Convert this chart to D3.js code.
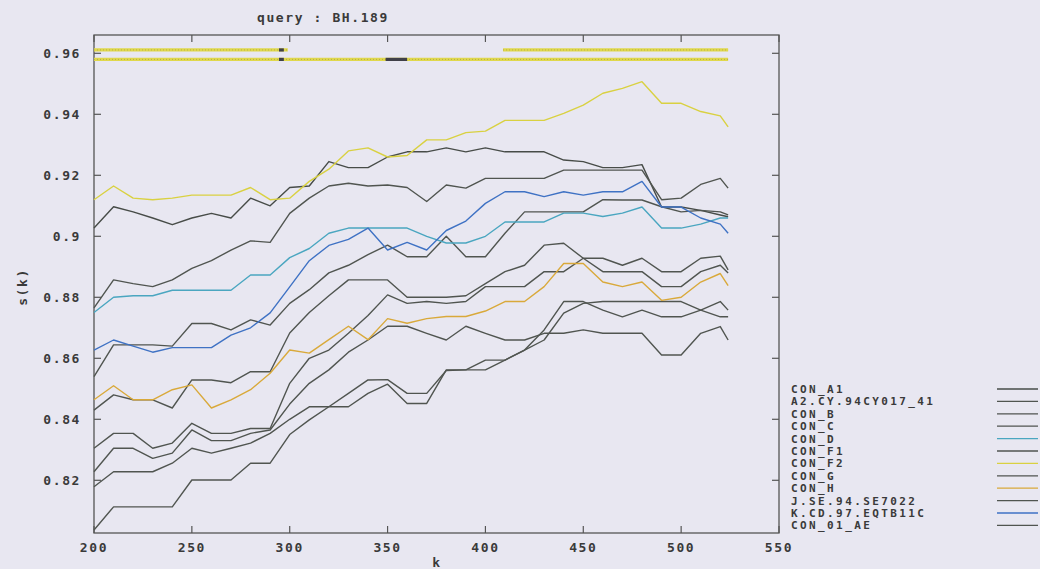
<!DOCTYPE html>
<html>
<head>
<meta charset="utf-8">
<script src="https://cdn.jsdelivr.net/npm/d3@7/dist/d3.min.js"></script>
<style>
  html, body { margin: 0; padding: 0; background: #e8e7f1; }
  svg { display: block; }
  .gp { font-family: "DejaVu Sans Mono", monospace; font-weight: bold; font-size: 13px; letter-spacing: 1.6px; fill: #3a3a3a; }
  .leg { font-family: "DejaVu Sans Mono", monospace; font-weight: bold; font-size: 11px; letter-spacing: 2.4px; fill: #3a3a3a; }
</style>
</head>
<body>
<div id="chart"></div>
<script>
// k positions shared by every series
const kGrid = [200, 210, 220, 230, 240, 250, 260, 270, 280, 290, 300, 310, 320, 330, 340, 350,
  360, 370, 380, 390, 400, 410, 420, 430, 440, 450, 460, 470, 480, 490, 500, 510, 520, 524];

const conA1 = [.9027, .9097, .908, .906, .9038, .906, .9075, .906, .9125, .910, .916, .9165, .9245, .9225, .9225, .926,
  .9277, .9277, .929, .9277, .929, .9277, .9277, .9277, .925, .9245, .9225, .9225, .9235, .9096, .9096, .9085, .907, .9064];
const a2CY = [.8765, .8857, .8845, .8835, .8857, .8895, .892, .8955, .8985, .898, .9075, .9125, .9165, .9174, .9165, .9168,
  .916, .9114, .9168, .9158, .919, .919, .919, .919, .9217, .9217, .9217, .9217, .9217, .912, .9125, .917, .919, .9158];
const conB = [.854, .8644, .8644, .8644, .864, .8714, .8714, .8693, .8726, .8709, .878, .8825, .888, .8905, .894, .8971,
  .8933, .8933, .900, .8933, .8933, .901, .908, .908, .908, .908, .912, .9119, .9119, .9097, .908, .9085, .908, .907];
const conC = [.843, .848, .8464, .8464, .8437, .8529, .8529, .852, .8556, .8556, .8683, .875, .8805, .8857, .8857, .8857,
  .880, .880, .880, .8805, .8845, .8884, .8905, .8971, .8977, .8928, .8884, .8884, .8884, .8835, .8835, .8884, .8905, .888];
const conD = [.875, .880, .8805, .8805, .8823, .8823, .8823, .8823, .8873, .8873, .893, .896, .901, .9027, .9027, .9027,
  .9027, .900, .8978, .8978, .900, .9047, .9047, .9047, .9076, .9076, .9065, .9076, .9096, .9027, .9027, .904, .906, .906];
const conF1 = [.8305, .8354, .8354, .8305, .8322, .8387, .8354, .8354, .837, .837, .8518, .86, .8627, .8682, .874, .8808,
  .878, .8786, .878, .8786, .8835, .8835, .8835, .8884, .8884, .8928, .8928, .8905, .8928, .8884, .8884, .8928, .8935, .889];
const conF2 = [.912, .9165, .9125, .912, .9125, .9135, .9135, .9135, .916, .912, .9125, .918, .922, .928, .929, .926,
  .9265, .9316, .9316, .934, .9345, .938, .938, .938, .9403, .943, .9469, .9485, .9507, .9436, .9436, .9409, .9395, .9359];
const conG = [.8228, .8305, .8305, .8272, .8289, .8365, .833, .833, .8354, .8365, .845, .8518, .8562, .862, .866, .8705,
  .8705, .8682, .866, .8705, .8682, .866, .866, .8682, .8682, .8693, .8682, .8682, .8682, .8611, .8611, .8682, .8704, .866];
const conH = [.8464, .851, .8464, .8464, .8497, .8513, .8437, .8464, .8497, .8551, .8627, .8617, .8661, .8705, .8661, .873,
  .8715, .873, .8737, .8737, .8755, .8786, .8786, .8835, .8911, .8911, .885, .8835, .885, .879, .880, .885, .8878, .8838];
const jSE = [.8179, .8228, .8228, .8228, .8256, .8305, .8289, .8305, .8322, .8354, .840, .8441, .8441, .8485, .8529, .853,
  .8485, .8485, .856, .8562, .8562, .8594, .8627, .866, .8748, .878, .8786, .8786, .8786, .8786, .8786, .8758, .8786, .8758];
const kCD = [.8627, .866, .864, .862, .8635, .8635, .8635, .8676, .870, .8749, .8834, .892, .897, .899, .9027, .8955,
  .898, .8955, .9019, .905, .9108, .9146, .9146, .913, .9146, .9135, .9146, .9146, .918, .9096, .9096, .906, .904, .901];
const con01AE = [.8037, .8113, .8113, .8113, .8113, .8201, .8201, .8201, .8256, .8256, .835, .8398, .8441, .8441, .8485, .8515,
  .8452, .8452, .8562, .8562, .8594, .8594, .8627, .8693, .8786, .8786, .8758, .8736, .8758, .8736, .8736, .8758, .8736, .8736];

const seriesNames = ['CON_A1', 'A2.CY.94CY017_41', 'CON_B', 'CON_C', 'CON_D', 'CON_F1', 'CON_F2',
  'CON_G', 'CON_H', 'J.SE.94.SE7022', 'K.CD.97.EQTB11C', 'CON_01_AE'];
const seriesValues = [conA1, a2CY, conB, conC, conD, conF1, conF2, conG, conH, jSE, kCD, con01AE];

// best-match bands along the top (k ranges)
const bandUpper = [[200, 299], [409, 524]];
const bandLower = [[200, 524]];
const bandMarks = [[0, 294.5, 297], [1, 294.5, 297], [1, 349, 360]];
const bandLevels = [0.9611, 0.958];

const xTicks = [200, 250, 300, 350, 400, 450, 500, 550];
const yTicks = [0.82, 0.84, 0.86, 0.88, 0.9, 0.92, 0.94, 0.96];

const colors = {
  'CON_A1': '#474c48', 'A2.CY.94CY017_41': '#505550', 'CON_B': '#505550', 'CON_C': '#505550',
  'CON_D': '#4aa6c0', 'CON_F1': '#505550', 'CON_F2': '#d9d141', 'CON_G': '#505550',
  'CON_H': '#d9a93a', 'J.SE.94.SE7022': '#505550', 'K.CD.97.EQTB11C': '#3f72c4', 'CON_01_AE': '#505550'
};

const W = 1040, H = 569;
const plot = { left: 94, right: 779, top: 35, bottom: 533 };

const svg = d3.select('#chart').append('svg')
  .attr('width', W).attr('height', H);

svg.append('rect').attr('width', W).attr('height', H).attr('fill', '#e8e7f1');

const x = d3.scaleLinear().domain([200, 550]).range([plot.left, plot.right]);
const y = d3.scaleLinear().domain([0.80272, 0.966]).range([plot.bottom, plot.top]);

const frameColor = '#555';
const g = svg.append('g');

// frame
g.append('rect')
  .attr('x', plot.left).attr('y', plot.top)
  .attr('width', plot.right - plot.left).attr('height', plot.bottom - plot.top)
  .attr('fill', 'none').attr('stroke', frameColor).attr('stroke-width', 1.3);

// ticks on all four sides, pointing inward
const tickLen = 7;
xTicks.forEach(t => {
  g.append('line').attr('x1', x(t)).attr('x2', x(t)).attr('y1', plot.bottom).attr('y2', plot.bottom - tickLen)
    .attr('stroke', frameColor).attr('stroke-width', 1.2);
  g.append('line').attr('x1', x(t)).attr('x2', x(t)).attr('y1', plot.top).attr('y2', plot.top + tickLen)
    .attr('stroke', frameColor).attr('stroke-width', 1.2);
  g.append('text').attr('class', 'gp').attr('x', x(t)).attr('y', 552)
    .attr('text-anchor', 'middle').text(t);
});
yTicks.forEach(t => {
  g.append('line').attr('x1', plot.left).attr('x2', plot.left + tickLen).attr('y1', y(t)).attr('y2', y(t))
    .attr('stroke', frameColor).attr('stroke-width', 1.2);
  g.append('line').attr('x1', plot.right).attr('x2', plot.right - tickLen).attr('y1', y(t)).attr('y2', y(t))
    .attr('stroke', frameColor).attr('stroke-width', 1.2);
  g.append('text').attr('class', 'gp').attr('x', 81).attr('y', y(t) + 5)
    .attr('text-anchor', 'end').text(d3.format('.2~f')(t));
});

// titles
svg.append('text').attr('class', 'gp').attr('x', 323).attr('y', 22).attr('text-anchor', 'middle')
  .text('query : BH.189');
svg.append('text').attr('class', 'gp').attr('x', 437).attr('y', 567).attr('text-anchor', 'middle').text('k');
svg.append('text').attr('class', 'gp').attr('transform', 'translate(27,287) rotate(-90)')
  .attr('text-anchor', 'middle').text('s(k)');

// top bands
const bandG = g.append('g');
[bandUpper, bandLower].forEach((segs, row) => {
  segs.forEach(s => {
    bandG.append('line').attr('x1', x(s[0])).attr('x2', x(s[1]))
      .attr('y1', y(bandLevels[row])).attr('y2', y(bandLevels[row]))
      .attr('stroke', '#e0d84c').attr('stroke-width', 3.2);
    bandG.append('line').attr('x1', x(s[0])).attr('x2', x(s[1]))
      .attr('y1', y(bandLevels[row])).attr('y2', y(bandLevels[row]))
      .attr('stroke', '#b3ad4a').attr('stroke-width', 1).attr('stroke-dasharray', '1,2');
  });
});
bandMarks.forEach(m => {
  bandG.append('line').attr('x1', x(m[1])).attr('x2', x(m[2]))
    .attr('y1', y(bandLevels[m[0]])).attr('y2', y(bandLevels[m[0]]))
    .attr('stroke', '#404048').attr('stroke-width', 3.2);
});

// curves
const line = d3.line()
  .x(d => x(d[0]))
  .y(d => y(d[1]));

const order = [0, 1, 2, 3, 5, 7, 9, 11, 4, 10, 8, 6];
order.forEach(i => {
  const name = seriesNames[i];
  const pts = kGrid.map((k, j) => [k, seriesValues[i][j]]);
  g.append('path').datum(pts)
    .attr('d', line)
    .attr('fill', 'none')
    .attr('stroke', colors[name])
    .attr('stroke-width', 1.4)
    .attr('stroke-linejoin', 'round');
});

// legend
const legend = svg.append('g');
seriesNames.forEach((name, i) => {
  const ly = 389 + i * 12.4;
  legend.append('text').attr('class', 'leg').attr('x', 791).attr('y', ly + 4).text(name);
  legend.append('line').attr('x1', 997).attr('x2', 1038).attr('y1', ly).attr('y2', ly)
    .attr('stroke', colors[name]).attr('stroke-width', 1.3);
});
</script>
</body>
</html>
